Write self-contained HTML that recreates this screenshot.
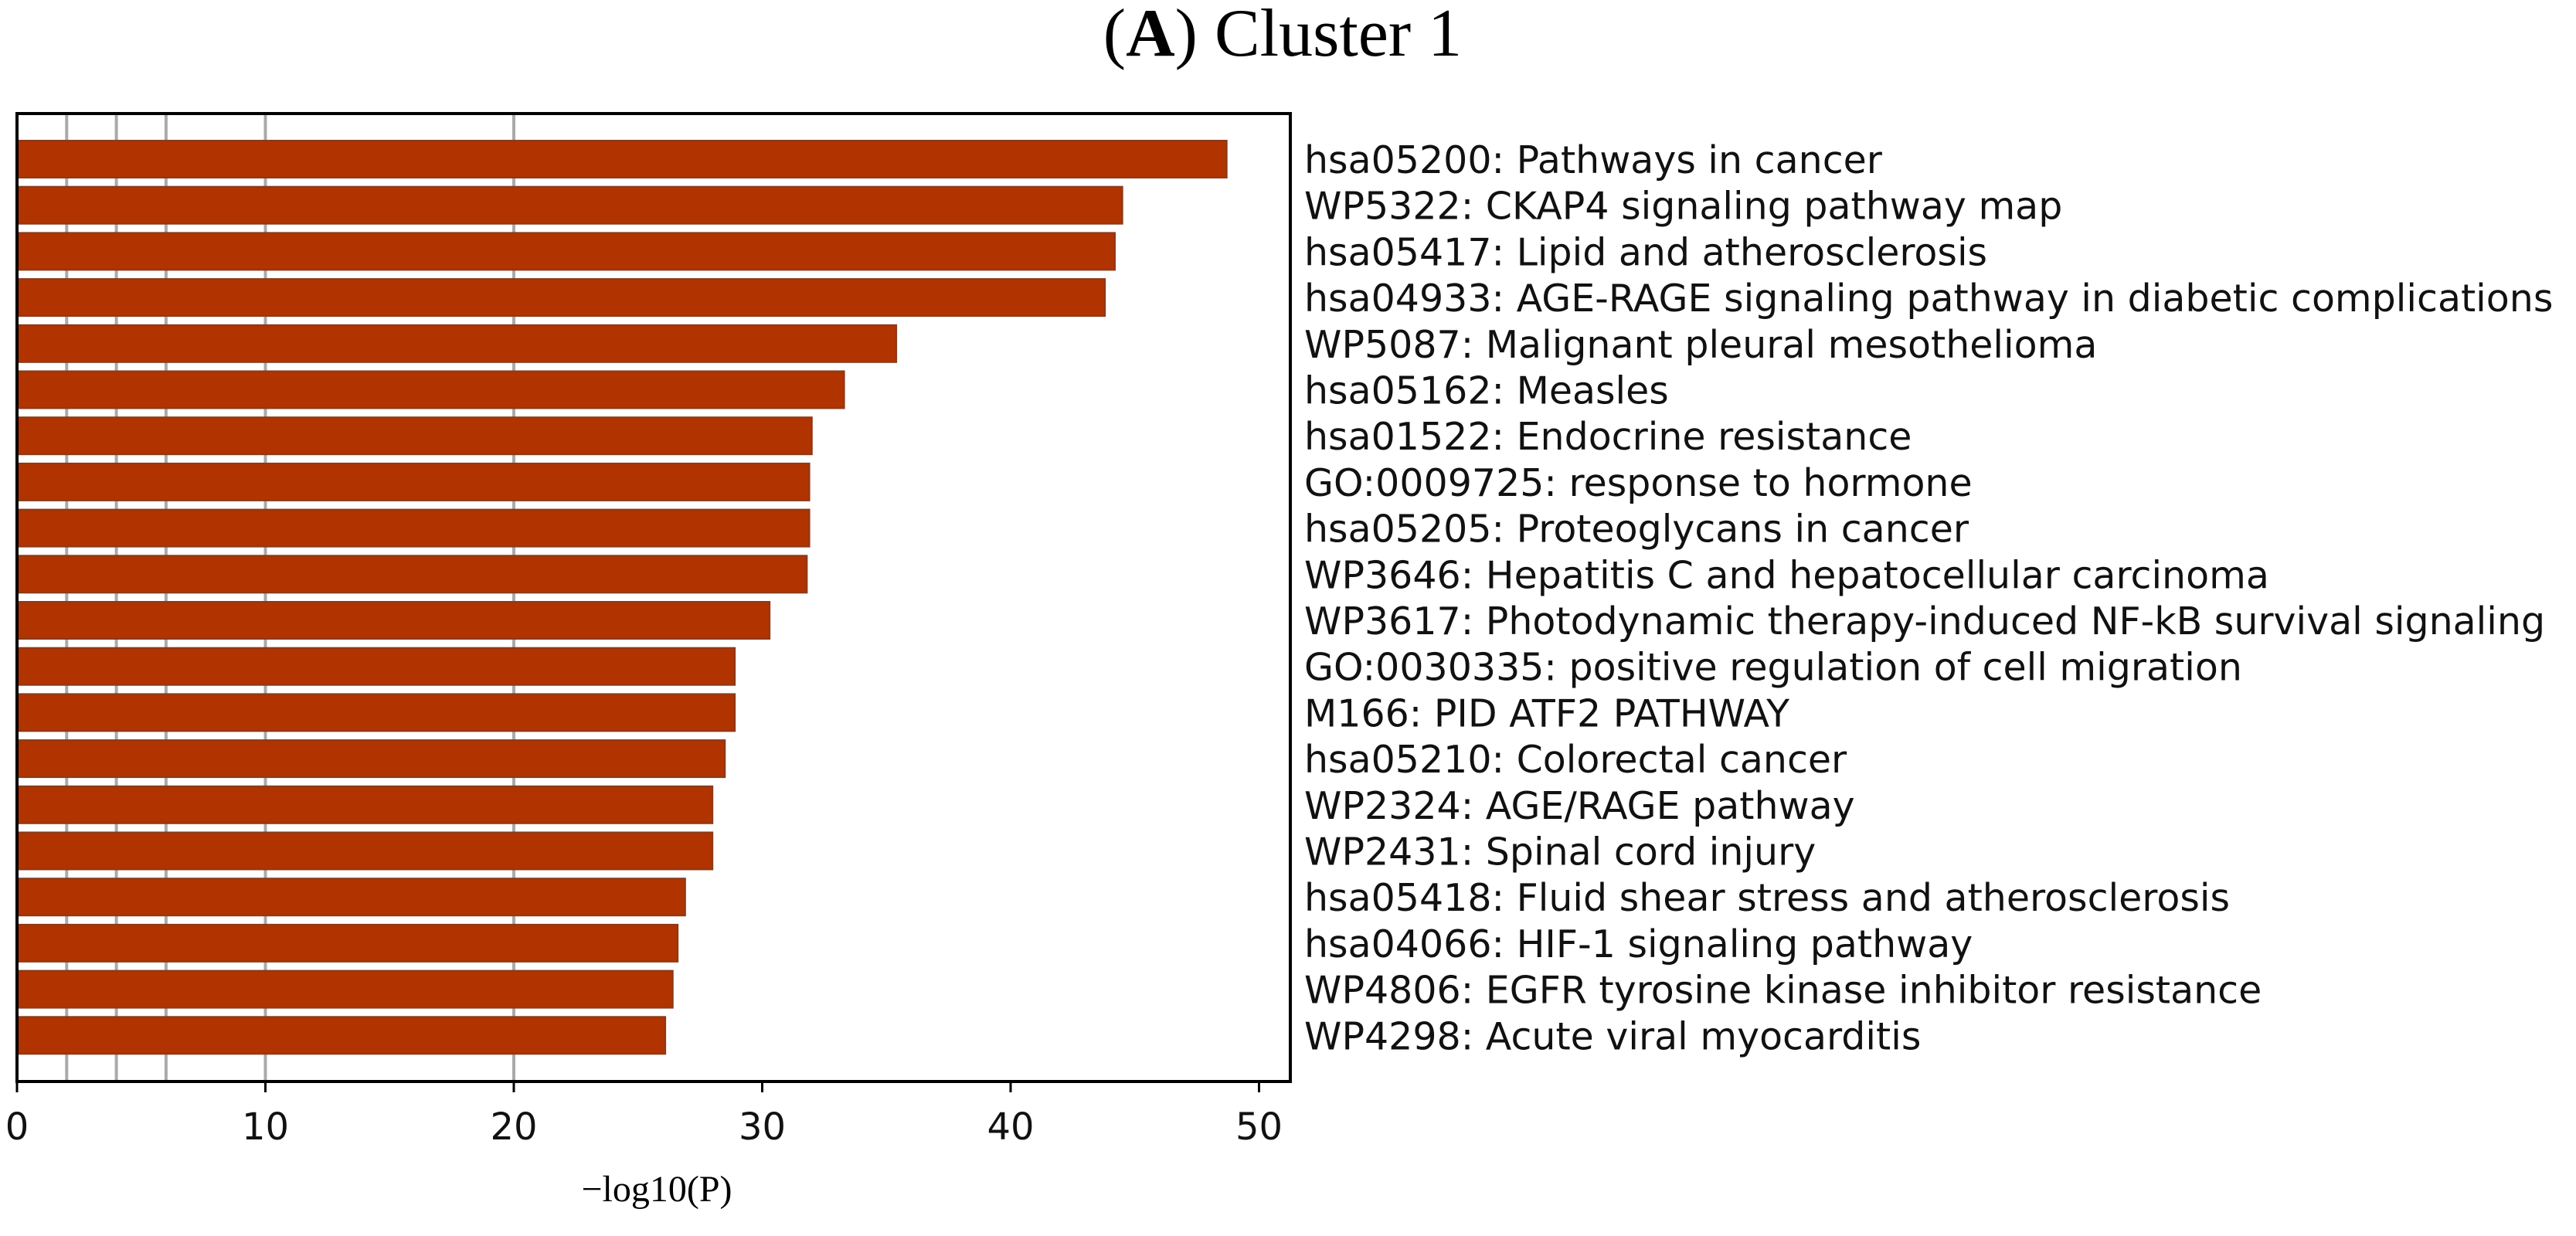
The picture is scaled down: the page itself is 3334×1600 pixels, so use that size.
<!DOCTYPE html>
<html><head><meta charset="utf-8"><style>
html,body{margin:0;padding:0;background:#fff;}
svg{display:block;}
</style></head><body>
<svg id="chart" width="3334" height="1600" viewBox="0 0 3334 1600" xmlns="http://www.w3.org/2000/svg">
<text x="1660" y="72" text-anchor="middle" font-family="Liberation Serif, serif" font-size="88" fill="#000">(<tspan font-weight="bold">A</tspan>) Cluster 1</text>
<g id="grid"></g>
<g id="bars"></g>
<g id="labels"></g>
<rect x="22" y="147" width="1648" height="1253" fill="none" stroke="#000" stroke-width="4"/>
<g id="xaxis"></g>
<text x="850" y="1555" text-anchor="middle" font-family="Liberation Serif, serif" font-size="48" fill="#000">−log10(P)</text>
</svg>
<script>
const categories = [
"hsa05200: Pathways in cancer",
"WP5322: CKAP4 signaling pathway map",
"hsa05417: Lipid and atherosclerosis",
"hsa04933: AGE-RAGE signaling pathway in diabetic complications",
"WP5087: Malignant pleural mesothelioma",
"hsa05162: Measles",
"hsa01522: Endocrine resistance",
"GO:0009725: response to hormone",
"hsa05205: Proteoglycans in cancer",
"WP3646: Hepatitis C and hepatocellular carcinoma",
"WP3617: Photodynamic therapy-induced NF-kB survival signaling",
"GO:0030335: positive regulation of cell migration",
"M166: PID ATF2 PATHWAY",
"hsa05210: Colorectal cancer",
"WP2324: AGE/RAGE pathway",
"WP2431: Spinal cord injury",
"hsa05418: Fluid shear stress and atherosclerosis",
"hsa04066: HIF-1 signaling pathway",
"WP4806: EGFR tyrosine kinase inhibitor resistance",
"WP4298: Acute viral myocarditis"
];
const values = [48.7,44.5,44.2,43.8,35.4,33.3,32.0,31.9,31.9,31.8,30.3,28.9,28.9,28.5,28.0,28.0,26.9,26.6,26.4,26.1];
const xTicks = [0,10,20,30,40,50];
const gridLines = [2,4,6,10,20];

const NS="http://www.w3.org/2000/svg";
const X0=22, UNIT=32.15;
const xScale=v=>X0+v*UNIT;
const TOP0=182, PITCH=59.7, BH=48;
const yScale=i=>TOP0+i*PITCH;
function mk(tag,attrs,parent){const e=document.createElementNS(NS,tag);for(const k in attrs)e.setAttribute(k,attrs[k]);parent.appendChild(e);return e;}

const grid=document.getElementById('grid');
gridLines.forEach(g=>{
  const l=mk('line',{x1:xScale(g),x2:xScale(g),y1:147,y2:1400,stroke:'#aaa','stroke-width':4},grid);
  
  
});
const bars=document.getElementById('bars');
const labels=document.getElementById('labels');
values.forEach((v,i)=>{
  const r=mk('rect',{x:X0,y:yScale(i),width:xScale(v)-X0,height:BH,fill:'#b03300',stroke:'#8a3a1a','stroke-width':2},bars);
  
  
  const t=mk('text',{x:1688,y:yScale(i)+BH/2+18,'font-family':'DejaVu Sans, sans-serif','font-size':49,fill:'#111'},labels);
  t.textContent=categories[i];
  
  
});
const xa=document.getElementById('xaxis');
xTicks.forEach(t=>{
  const l=mk('line',{x1:xScale(t),x2:xScale(t),y1:1400,y2:1414,stroke:'#000','stroke-width':3},xa);
  
  
  const tx=mk('text',{x:xScale(t),y:1475,'text-anchor':'middle','font-family':'DejaVu Sans, sans-serif','font-size':48,fill:'#111'},xa);
  tx.textContent=t;
  
  
});
</script>
</body></html>
